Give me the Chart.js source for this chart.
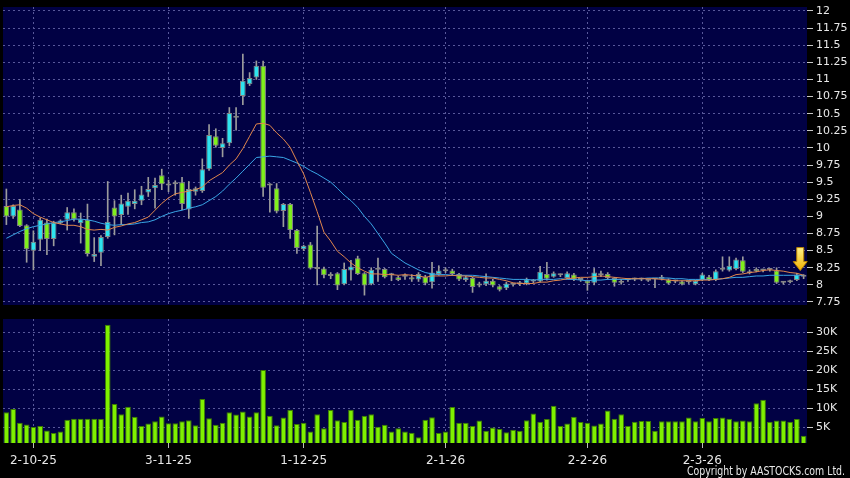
<!DOCTYPE html>
<html>
<head>
<meta charset="utf-8">
<title>Price and volume</title>
<script src="https://cdn.jsdelivr.net/npm/chart.js@4.4.1/dist/chart.umd.min.js"></script>
<style>
  html, body { margin: 0; padding: 0; background: #000; }
  #wrap { position: relative; width: 850px; height: 478px; background: #000; overflow: hidden; }
  .pane { position: absolute; left: 0; width: 850px; }
</style>
</head>
<body>
<div id="wrap">
  <div class="pane" style="top:0;height:310px"><canvas id="priceChart"></canvas></div>
  <div class="pane" style="top:310px;height:168px"><canvas id="volChart"></canvas></div>
</div>
<script>
// trading days (d-m-yy)
const dates = [
  '25-9-25','26-9-25','29-9-25','30-9-25',
  '2-10-25','3-10-25','6-10-25','8-10-25','9-10-25','10-10-25','13-10-25','14-10-25','15-10-25','16-10-25',
  '17-10-25','20-10-25','21-10-25','22-10-25','23-10-25','24-10-25','27-10-25','28-10-25','30-10-25','31-10-25',
  '3-11-25','4-11-25','5-11-25','6-11-25','7-11-25','10-11-25','11-11-25','12-11-25','13-11-25','14-11-25',
  '17-11-25','18-11-25','19-11-25','20-11-25','21-11-25','24-11-25','25-11-25','26-11-25','27-11-25','28-11-25',
  '1-12-25','2-12-25','3-12-25','4-12-25','5-12-25','8-12-25','9-12-25','10-12-25','11-12-25','12-12-25',
  '15-12-25','16-12-25','17-12-25','18-12-25','19-12-25','22-12-25','23-12-25','24-12-25','29-12-25','30-12-25','31-12-25',
  '2-1-26','5-1-26','6-1-26','7-1-26','8-1-26','9-1-26','12-1-26','13-1-26','14-1-26','15-1-26','16-1-26',
  '19-1-26','20-1-26','21-1-26','22-1-26','23-1-26','26-1-26','27-1-26','28-1-26','29-1-26','30-1-26',
  '2-2-26','3-2-26','4-2-26','5-2-26','6-2-26','9-2-26','10-2-26','11-2-26','12-2-26','13-2-26',
  '16-2-26','20-2-26','23-2-26','24-2-26','25-2-26','26-2-26','27-2-26',
  '2-3-26','3-3-26','4-3-26','5-3-26','6-3-26','9-3-26','10-3-26','11-3-26','12-3-26','13-3-26',
  '16-3-26','17-3-26','18-3-26','19-3-26','20-3-26','23-3-26'
];
const tickLabels = ['2-10-25', '3-11-25', '1-12-25', '2-1-26', '2-2-26', '2-3-26'];

const opens = [
  9.15, 9.00, 9.10, 8.87, 8.50, 8.66, 8.91, 8.67, 8.90, 8.95,
  9.06, 8.90, 8.95, 8.41, 8.47, 8.70, 9.13, 9.02, 9.14, 9.18,
  9.23, 9.35, 9.41, 9.60, 9.45, 9.47, 9.50, 9.10, 9.36, 9.37,
  9.69, 10.17, 10.00, 10.07, 10.44, 10.76, 10.93, 11.03, 11.20, 9.45,
  9.41, 9.08, 9.18, 8.80, 8.52, 8.59, 8.23, 8.24, 8.13, 8.17,
  8.01, 8.21, 8.39, 8.17, 8.01, 8.22, 8.23, 8.14, 8.11, 8.12,
  8.11, 8.08, 8.12, 8.04, 8.16, 8.20, 8.21, 8.16, 8.07, 8.10,
  7.99, 8.01, 8.06, 7.98, 7.95, 8.00, 8.01, 8.02, 8.05, 8.05,
  8.16, 8.12, 8.14, 8.10, 8.15, 8.07, 8.06, 8.03, 8.14, 8.16,
  8.10, 8.03, 8.07, 8.08, 8.08, 8.06, 8.08, 8.09, 8.08, 8.05,
  8.05, 8.04, 8.01, 8.07, 8.12, 8.07, 8.22, 8.21, 8.23, 8.36,
  8.17, 8.23, 8.21, 8.22, 8.21, 8.03, 8.04, 8.07, 8.12
];
const highs = [
  9.40, 9.17, 9.25, 8.88, 8.79, 8.98, 8.96, 8.93, 8.95, 9.13,
  9.11, 9.05, 9.18, 8.69, 8.72, 9.51, 9.23, 9.31, 9.34, 9.39,
  9.44, 9.57, 9.56, 9.69, 9.53, 9.52, 9.57, 9.51, 9.43, 9.84,
  10.34, 10.28, 10.14, 10.59, 10.59, 11.37, 11.10, 11.27, 11.27, 9.48,
  9.48, 9.19, 9.19, 8.81, 8.58, 8.62, 8.86, 8.26, 8.18, 8.18,
  8.32, 8.36, 8.42, 8.18, 8.25, 8.39, 8.24, 8.17, 8.13, 8.16,
  8.15, 8.18, 8.14, 8.33, 8.28, 8.25, 8.23, 8.17, 8.13, 8.11,
  8.04, 8.16, 8.08, 7.99, 8.04, 8.02, 8.05, 8.10, 8.08, 8.27,
  8.33, 8.19, 8.16, 8.19, 8.17, 8.09, 8.07, 8.24, 8.20, 8.18,
  8.11, 8.08, 8.09, 8.10, 8.10, 8.09, 8.09, 8.14, 8.09, 8.07,
  8.06, 8.06, 8.07, 8.17, 8.14, 8.22, 8.41, 8.41, 8.39, 8.41,
  8.22, 8.25, 8.23, 8.24, 8.25, 8.05, 8.07, 8.17, 8.15
];
const lows = [
  8.88, 8.97, 8.85, 8.33, 8.22, 8.50, 8.44, 8.57, 8.89, 8.80,
  8.93, 8.61, 8.42, 8.34, 8.28, 8.68, 8.73, 8.88, 9.03, 9.11,
  9.17, 9.29, 9.12, 9.39, 9.36, 9.31, 9.10, 8.97, 9.31, 9.35,
  9.67, 10.01, 9.87, 10.03, 10.26, 10.63, 10.91, 11.00, 9.29, 9.06,
  9.05, 8.85, 8.68, 8.46, 8.50, 8.23, 8.00, 8.10, 8.09, 7.93,
  8.00, 8.07, 8.15, 7.85, 8.00, 8.05, 8.10, 8.06, 8.06, 8.08,
  8.05, 8.05, 8.00, 7.95, 8.14, 8.18, 8.14, 8.06, 8.05, 7.89,
  7.97, 7.99, 7.97, 7.91, 7.93, 7.98, 7.99, 8.00, 8.03, 8.04,
  8.07, 8.11, 8.12, 8.09, 8.06, 8.05, 7.92, 8.00, 8.12, 8.08,
  7.98, 8.01, 8.05, 8.06, 8.06, 8.05, 7.96, 8.07, 8.01, 8.03,
  8.00, 8.02, 8.00, 8.06, 8.06, 8.06, 8.20, 8.20, 8.22, 8.18,
  8.16, 8.19, 8.19, 8.20, 8.02, 8.01, 8.03, 8.06, 8.09
];
const closes = [
  9.00, 9.15, 8.86, 8.52, 8.63, 8.95, 8.67, 8.91, 8.94, 9.06,
  8.96, 8.96, 8.45, 8.45, 8.70, 8.92, 9.00, 9.19, 9.23, 9.23,
  9.32, 9.40, 9.46, 9.47, 9.48, 9.50, 9.18, 9.40, 9.41, 9.69,
  10.19, 10.03, 10.07, 10.51, 10.44, 10.98, 11.02, 11.20, 9.42, 9.45,
  9.07, 9.18, 8.80, 8.54, 8.57, 8.24, 8.25, 8.14, 8.13, 7.99,
  8.23, 8.27, 8.16, 7.99, 8.22, 8.22, 8.11, 8.14, 8.07, 8.12,
  8.08, 8.16, 8.02, 8.18, 8.21, 8.22, 8.16, 8.08, 8.11, 7.97,
  8.02, 8.06, 7.99, 7.93, 8.02, 8.00, 8.03, 8.08, 8.05, 8.19,
  8.09, 8.17, 8.14, 8.17, 8.08, 8.07, 8.02, 8.18, 8.16, 8.10,
  8.03, 8.06, 8.07, 8.08, 8.08, 8.08, 8.08, 8.09, 8.02, 8.05,
  8.01, 8.04, 8.06, 8.15, 8.07, 8.20, 8.22, 8.28, 8.37, 8.19,
  8.20, 8.20, 8.21, 8.22, 8.03, 8.03, 8.06, 8.15, 8.12
];
// moving average lines as drawn (orange 10-day, blue 20-day)
const ma10 = [
  9.14, 9.16, 9.17, 9.12, 9.04, 8.99, 8.95, 8.91, 8.89, 8.87,
  8.87, 8.85, 8.81, 8.80, 8.81, 8.80, 8.84, 8.86, 8.89, 8.91,
  8.95, 8.99, 9.09, 9.19, 9.27, 9.33, 9.35, 9.37, 9.39, 9.43,
  9.52, 9.58, 9.64, 9.75, 9.84, 9.99, 10.17, 10.35, 10.36, 10.33,
  10.22, 10.13, 10.01, 9.81, 9.62, 9.35, 9.07, 8.77, 8.64, 8.49,
  8.41, 8.32, 8.25, 8.20, 8.16, 8.16, 8.15, 8.15, 8.14, 8.15,
  8.14, 8.13, 8.11, 8.13, 8.13, 8.13, 8.14, 8.13, 8.13, 8.12,
  8.11, 8.10, 8.10, 8.08, 8.06, 8.03, 8.02, 8.02, 8.02, 8.04,
  8.04, 8.06, 8.07, 8.09, 8.10, 8.11, 8.11, 8.12, 8.13, 8.12,
  8.11, 8.10, 8.09, 8.09, 8.09, 8.09, 8.09, 8.08, 8.07, 8.06,
  8.06, 8.06, 8.06, 8.07, 8.07, 8.08, 8.09, 8.11, 8.15, 8.16,
  8.18, 8.19, 8.21, 8.22, 8.21, 8.20, 8.18, 8.17, 8.14
];
const ma20 = [
  8.68, 8.73, 8.78, 8.82, 8.85, 8.87, 8.89, 8.91, 8.92, 8.94,
  8.96, 8.96, 8.95, 8.93, 8.90, 8.88, 8.87, 8.88, 8.88, 8.89,
  8.91, 8.92, 8.95, 9.00, 9.04, 9.07, 9.09, 9.12, 9.14, 9.17,
  9.23, 9.29, 9.37, 9.47, 9.56, 9.66, 9.76, 9.86, 9.87, 9.88,
  9.87, 9.86, 9.82, 9.78, 9.73, 9.67, 9.62, 9.56, 9.50, 9.41,
  9.31, 9.23, 9.13, 9.00, 8.89, 8.75, 8.61, 8.46, 8.39, 8.32,
  8.27, 8.22, 8.18, 8.16, 8.15, 8.15, 8.14, 8.14, 8.14, 8.14,
  8.13, 8.12, 8.11, 8.10, 8.09, 8.08, 8.08, 8.08, 8.07, 8.08,
  8.08, 8.08, 8.09, 8.08, 8.08, 8.07, 8.06, 8.07, 8.07, 8.08,
  8.08, 8.08, 8.08, 8.09, 8.09, 8.10, 8.10, 8.10, 8.10, 8.09,
  8.09, 8.08, 8.08, 8.08, 8.08, 8.08, 8.09, 8.10, 8.11, 8.11,
  8.12, 8.13, 8.13, 8.14, 8.14, 8.14, 8.14, 8.14, 8.14
];
const volumes = [
  8900, 9800, 6100, 5700, 5000, 5300, 4100, 3400, 3800, 6900,
  7200, 7200, 7200, 7200, 7100, 32100, 11100, 8400, 10400, 7700,
  5300, 5900, 6500, 7800, 6000, 6000, 6500, 6800, 5500, 12400,
  7300, 5600, 6100, 8900, 8300, 9100, 7800, 8900, 20100, 8000,
  5500, 7500, 9600, 5800, 6100, 3800, 8400, 4700, 9500, 6800,
  6300, 9600, 6900, 8000, 8400, 5100, 5600, 3800, 4700, 3800,
  3500, 2300, 6900, 7600, 3400, 3800, 10300, 6100, 6100, 5300,
  6700, 4000, 4900, 4500, 3600, 4300, 4000, 6800, 8600, 6400,
  7100, 10600, 5300, 5900, 7700, 6300, 6100, 5400, 5900, 9400,
  7200, 8400, 5300, 6400, 6600, 6600, 4000, 6500, 6500, 6500,
  6500, 7500, 6500, 7400, 6500, 7400, 7500, 7200, 6500, 6700,
  6500, 11300, 12200, 6400, 6700, 6700, 6400, 7100, 2700
];
const priceTicks = [7.75, 8, 8.25, 8.5, 8.75, 9, 9.25, 9.5, 9.75, 10, 10.25, 10.5, 10.75, 11, 11.25, 11.5, 11.75, 12];
const volTicks = [5000, 10000, 15000, 20000, 25000, 30000];

const navy = '#010144';
const gridColor = '#58589a';
const upColor = '#2ee3ef';
const downColor = '#80f01c';
const flatColor = '#9c9c9c';

Chart.defaults.font.family = '"DejaVu Sans", Verdana, sans-serif';
Chart.defaults.color = '#e8e8e8';
Chart.defaults.animation = false;

const wicks = lows.map((l, i) => [l, highs[i]]);
const bodies = opens.map((o, i) => [Math.min(o, closes[i]), Math.max(o, closes[i])]);
const bodyColors = opens.map((o, i) => closes[i] > o ? upColor : (closes[i] < o ? downColor : flatColor));

function monthGrid(ctx) {
  return tickLabels.includes(dates[ctx.index]) ? gridColor : 'rgba(0,0,0,0)';
}
function monthTick(ctx) {
  return tickLabels.includes(dates[ctx.index]) ? '#bbbbbb' : 'rgba(0,0,0,0)';
}
// keep the right axis from pushing the plot area in
function fitRightAxis(s) {
  s.width = 43;
  s.paddingTop = 0;
  s.paddingBottom = 0;
}

const plotBg = {
  id: 'plotBg',
  beforeDraw(chart) {
    const { ctx, chartArea: a } = chart;
    ctx.save();
    ctx.fillStyle = navy;
    ctx.fillRect(a.left, a.top, a.right - a.left, a.bottom - a.top);
    ctx.restore();
  }
};

// yellow marker over the latest candle
const arrowMark = {
  id: 'arrowMark',
  afterDatasetsDraw(chart) {
    const { ctx } = chart;
    const xs = chart.scales.x, ys = chart.scales.y;
    const n = closes.length - 1;
    const cx = (xs.getPixelForValue(n) + xs.getPixelForValue(n - 1)) / 2;
    const tip = ys.getPixelForValue(highs[n]) - 4;
    const g = ctx.createLinearGradient(0, tip - 23, 0, tip);
    g.addColorStop(0, '#fff38a');
    g.addColorStop(1, '#f2b000');
    ctx.save();
    ctx.beginPath();
    ctx.moveTo(cx - 3.5, tip - 23);
    ctx.lineTo(cx + 3.5, tip - 23);
    ctx.lineTo(cx + 3.5, tip - 9);
    ctx.lineTo(cx + 7, tip - 9);
    ctx.lineTo(cx, tip);
    ctx.lineTo(cx - 7, tip - 9);
    ctx.lineTo(cx - 3.5, tip - 9);
    ctx.closePath();
    ctx.fillStyle = g;
    ctx.fill();
    ctx.strokeStyle = '#b98000';
    ctx.lineWidth = 1;
    ctx.stroke();
    ctx.restore();
  }
};

const copyright = {
  id: 'copyright',
  afterDraw(chart) {
    const { ctx } = chart;
    ctx.save();
    ctx.font = '12px "DejaVu Sans", Verdana, sans-serif';
    ctx.fillStyle = '#e8e8e8';
    ctx.textAlign = 'right';
    ctx.textBaseline = 'middle';
    ctx.fillText('Copyright by AASTOCKS.com Ltd.', 845, 161.5, 158);
    ctx.restore();
  }
};

new Chart(document.getElementById('priceChart'), {
  type: 'bar',
  data: {
    labels: dates,
    datasets: [
      { type: 'line', data: ma10, borderColor: '#e2874c', borderWidth: 1, pointRadius: 0, order: 0 },
      { type: 'line', data: ma20, borderColor: '#3aa6e6', borderWidth: 1, pointRadius: 0, order: 0 },
      {
        data: bodies, backgroundColor: bodyColors, borderColor: '#858585', borderWidth: 1,
        borderSkipped: false, barPercentage: 0.84, categoryPercentage: 1, minBarLength: 2,
        grouped: false, order: 1
      },
      { data: wicks, backgroundColor: flatColor, barThickness: 1, grouped: false, order: 2 }
    ]
  },
  options: {
    responsive: true,
    maintainAspectRatio: false,
    layout: { padding: { left: 3, top: 7, right: 0, bottom: 5 }, autoPadding: false },
    plugins: { legend: { display: false }, tooltip: { enabled: false } },
    scales: {
      x: {
        offset: true,
        grid: { offset: false, color: monthGrid, drawTicks: false },
        border: { display: false, dash: [2, 3] },
        ticks: { display: false, autoSkip: false },
        afterFit(s) { s.height = 0; }
      },
      y: {
        position: 'right',
        min: 7.706,
        max: 12.058,
        afterBuildTicks(s) { s.ticks = priceTicks.map(v => ({ value: v })); },
        ticks: { font: { size: 11 }, padding: 3, callback: v => String(v) },
        grid: { color: gridColor, tickColor: '#c8c8c8', tickLength: 6, tickBorderDash: [] },
        border: { display: false, dash: [2, 3] },
        afterFit: fitRightAxis
      }
    }
  },
  plugins: [plotBg, arrowMark]
});

new Chart(document.getElementById('volChart'), {
  type: 'bar',
  data: {
    labels: dates,
    datasets: [{
      data: volumes, backgroundColor: '#7ff000', borderColor: '#3d7d00', borderWidth: 1,
      borderSkipped: false, barPercentage: 0.84, categoryPercentage: 1
    }]
  },
  options: {
    responsive: true,
    maintainAspectRatio: false,
    layout: { padding: { left: 3, top: 9, right: 0, bottom: 0 }, autoPadding: false },
    plugins: { legend: { display: false }, tooltip: { enabled: false } },
    scales: {
      x: {
        offset: true,
        grid: { offset: false, color: monthGrid, tickColor: monthTick, tickLength: 5, tickBorderDash: [] },
        border: { display: false, dash: [2, 3] },
        ticks: {
          autoSkip: false, maxRotation: 0, minRotation: 0, padding: 6, font: { size: 12 },
          callback: (v, i) => tickLabels.includes(dates[i]) ? dates[i] : ''
        },
        afterFit(s) { s.height = 35; s.paddingLeft = 0; s.paddingRight = 0; }
      },
      y: {
        position: 'right',
        min: 770,
        max: 33600,
        afterBuildTicks(s) { s.ticks = volTicks.map(v => ({ value: v })); },
        ticks: { font: { size: 11 }, padding: 3, callback: v => (v / 1000) + 'K' },
        grid: { color: gridColor, tickColor: '#c8c8c8', tickLength: 6, tickBorderDash: [] },
        border: { display: false, dash: [2, 3] },
        afterFit: fitRightAxis
      }
    }
  },
  plugins: [plotBg, copyright]
});
</script>
</body>
</html>
